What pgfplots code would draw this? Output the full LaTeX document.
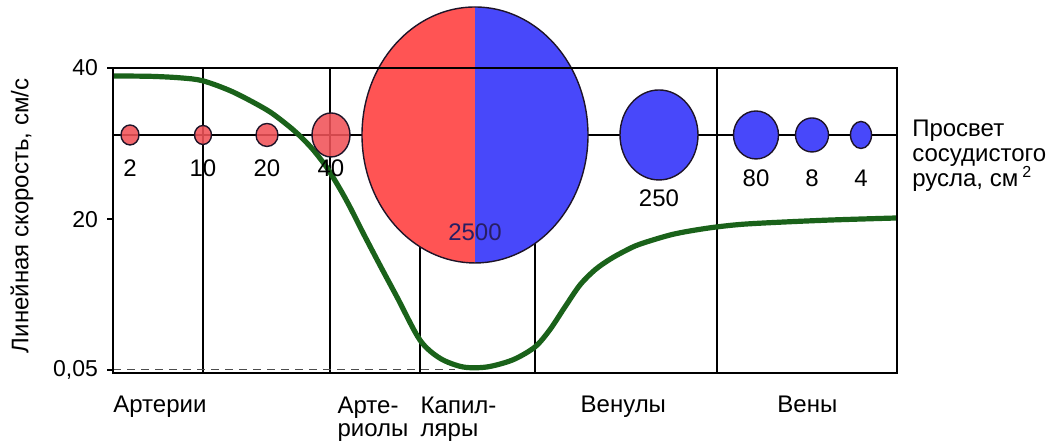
\documentclass[border=0pt]{standalone}
\usepackage{fontspec}
\setmainfont{Liberation Sans}
\usepackage{pgfplots}
\usepackage{pgfplotstable}
\pgfplotsset{compat=1.18}

\definecolor{artred}{RGB}{255,84,84}
\definecolor{artredsmall}{RGB}{240,82,88}
\definecolor{veinblue}{RGB}{72,72,250}
\definecolor{flowgreen}{RGB}{26,98,26}
\definecolor{rimdark}{RGB}{30,20,40}
\definecolor{labelnavy}{RGB}{40,30,100}

% elliptical disc, half-axes taken from \vrx and \vry (in pt)
\pgfdeclareplotmark{vdisc}{%
  \pgfpathellipse{\pgfpointorigin}{\pgfpoint{\vrx pt}{0pt}}{\pgfpoint{0pt}{\vry pt}}%
  \pgfusepathqfillstroke}
% the same disc, left half arterial red, right half venous blue
\pgfdeclareplotmark{splitdisc}{%
  \pgfpathmoveto{\pgfpoint{0pt}{\vry pt}}%
  \pgfpatharc{90}{270}{\vrx pt and \vry pt}%
  \pgfpathclose
  \pgfsetfillcolor{artred}\pgfusepathqfill
  \pgfpathmoveto{\pgfpoint{0pt}{-\vry pt}}%
  \pgfpatharc{270}{450}{\vrx pt and \vry pt}%
  \pgfpathclose
  \pgfsetfillcolor{veinblue}\pgfusepathqfill
  \pgfpathellipse{\pgfpointorigin}{\pgfpoint{\vrx pt}{0pt}}{\pgfpoint{0pt}{\vry pt}}%
  \pgfusepathqstroke}

% grid below the plots, frame above them
\pgfplotsset{
  layers/grid under/.define layer set={
    axis background,axis grid,main,axis ticks,axis lines,axis tick labels,axis descriptions,axis foreground
  }{
    grid style={/pgfplots/on layer=axis grid},
    tick style={/pgfplots/on layer=axis ticks},
    axis line style={/pgfplots/on layer=axis lines},
    label style={/pgfplots/on layer=axis descriptions},
    legend style={/pgfplots/on layer=axis descriptions},
    title style={/pgfplots/on layer=axis descriptions},
    colorbar style={/pgfplots/on layer=axis descriptions},
    ticklabel style={/pgfplots/on layer=axis tick labels},
    axis background@ style={/pgfplots/on layer=axis background},
    3d box foreground style={/pgfplots/on layer=axis foreground},
  },
  vessel/.style={
    scatter, only marks, line width=0.7pt,
    point meta=\thisrow{area},
    visualization depends on={\thisrow{rx} \as \vrx},
    visualization depends on={\thisrow{ry} \as \vry},
  },
  % the lumen value printed under each disc
  areatag/.style={
    only marks, mark=none,
    nodes near coords, nodes near coords align=center,
    point meta=explicit symbolic,
    every node near coord/.style={anchor=center, text=black,
      font=\fontsize{12}{12}\selectfont},
  },
}

% total lumen area of each vessel bed (cm^2): disc on the row line,
% half-axes rx, ry (pt) and the height ly of its value tag
\pgfplotstableread{
x    y      rx     ry     area  ly
130  31.14  4.5    5.0    2     26.77
203  31.14  4.25   4.75   10    26.77
267  31.14  5.5    5.75   20    26.77
331  31.14  9.5    11.0   40    26.77
}\arterial
\pgfplotstableread{
x    y      rx     ry     area  ly
659  31.14  19.5   22.5   250   22.80
756  31.14  11.25  12.0   80    25.38
812  31.14  8.25   8.5    8     25.38
861  31.14  5.25   6.75   4     25.38
}\venous
\pgfplotstableread{
x    y      rx     ry     area  ly
475  31.14  56.5   64.0   2500  18.30
}\capillary

% linear blood velocity (cm/s) along the vascular bed
\pgfplotstableread{
x    v
113  38.94
150  38.90
180  38.70
203  38.30
233  36.83
267  34.44
287  32.50
300  31.00
313  29.20
327  26.80
340  24.00
350  21.60
363  18.20
380  13.90
397  9.70
420  4.00
440  1.60
463  0.45
487  0.45
513  1.40
535  3.10
550  5.40
565  8.40
580  11.30
595  13.30
610  14.70
625  15.80
640  16.70
673  18.00
707  18.80
740  19.30
780  19.60
833  19.90
897  20.16
}\velocity

\begin{document}
\begin{tikzpicture}
\begin{axis}[
  set layers=grid under,
  at={(56.5pt,36pt)}, anchor=south west,
  scale only axis, width=392pt, height=152.5pt,
  xmin=113, xmax=897, ymin=-0.35, ymax=40,
  clip=false,
  axis line style={line width=1.2pt, black},
  xtick=\empty,
  ytick={0.05,20,40}, yticklabels={{0,05},20,40},
  ytick pos=left, tick align=outside,
  major tick length=3pt,
  tick style={line width=0.8pt, black},
  yticklabel style={font=\fontsize{11.5}{11.5}\selectfont, xshift=-1pt},
  extra x ticks={203,330,420,535,717},
  extra x tick labels={},
  extra x tick style={grid=major, major tick length=0pt,
    major grid style={black, line width=0.9pt}},
  extra y ticks={31.14},
  extra y tick labels={},
  extra y tick style={grid=major, major tick length=0pt,
    major grid style={black, line width=0.7pt}},
  ylabel={Линейная скорость, см/с},
  ylabel style={font=\fontsize{12}{12}\selectfont,
    at={(axis description cs:-0.116,0.515)}, anchor=center},
]
% 0.05 cm/s reference level
\addplot[gray!60!black, line width=0.5pt, dash pattern=on 4pt off 3pt]
  coordinates {(113,0.05) (455,0.05)};

% vessel lumen discs
\addplot[vessel, mark=vdisc, fill opacity=0.88,
  scatter/use mapped color={draw=rimdark, fill=artredsmall}] table[x=x,y=y] {\arterial};
\addplot[vessel, mark=vdisc,
  scatter/use mapped color={draw=rimdark, fill=veinblue}] table[x=x,y=y] {\venous};
\addplot[vessel, mark=splitdisc,
  scatter/use mapped color={draw=rimdark, fill=veinblue}] table[x=x,y=y] {\capillary};

% grid lines showing faintly through the large discs
\addplot[white, opacity=0.4, line width=0.8pt] coordinates {(363,31.14) (587,31.14)};
\addplot[white, opacity=0.4, line width=0.8pt] coordinates {(420,40) (420,16.3)};
\addplot[white, opacity=0.4, line width=0.8pt] coordinates {(535,40) (535,16.8)};
\addplot[white, opacity=0.4, line width=0.7pt] coordinates {(621,31.14) (697,31.14)};
\addplot[white, opacity=0.4, line width=0.7pt] coordinates {(735,31.14) (777,31.14)};
\addplot[white, opacity=0.4, line width=0.7pt] coordinates {(797,31.14) (827,31.14)};
\addplot[white, opacity=0.4, line width=0.7pt] coordinates {(852,31.14) (870,31.14)};

% lumen values
\addplot[areatag] table[x=x, y=ly, meta=area] {\arterial};
\addplot[areatag] table[x=x, y=ly, meta=area] {\venous};
\addplot[areatag, every node near coord/.append style={text=labelnavy}]
  table[x=x, y=ly, meta=area] {\capillary};

% velocity curve
\addplot[flowgreen, line width=2.6pt, smooth, tension=0.5, no markers]
  table[x=x,y=v] {\velocity};

% vessel segments
\begin{scope}[every node/.style={anchor=base west, align=left, inner sep=0pt,
    font=\fontsize{12}{11.5}\selectfont}]
\node at (axis description cs:0.000,-0.1311) {Артерии};
\node at (axis description cs:0.286,-0.2066) {Арте-\\риолы};
\node at (axis description cs:0.392,-0.2066) {Капил-\\ляры};
\node at (axis description cs:0.596,-0.1311) {Венулы};
\node at (axis description cs:0.847,-0.1311) {Вены};
\end{scope}
\node[anchor=base west, align=left, inner sep=0pt,
  font=\fontsize{12}{12.5}\selectfont] at (axis description cs:1.019,0.613)
  {Просвет\\сосудистого\\русла, см\,\textsuperscript{2}};
\end{axis}
% page = the full drawing area
\pgfresetboundingbox
\useasboundingbox (0,0) rectangle (531pt,222.5pt);
\end{tikzpicture}
\end{document}
